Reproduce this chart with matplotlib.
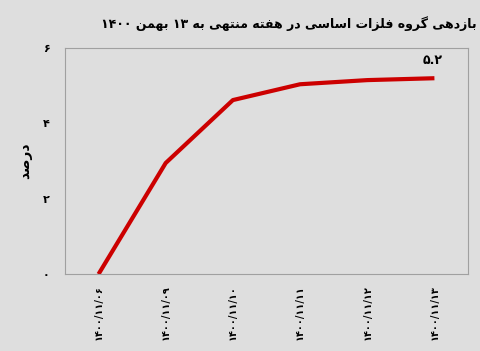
import matplotlib
matplotlib.use("Agg")
import matplotlib.pyplot as plt

# Persian shaping by hand (matplotlib does not shape Arabic script)
FORMS = {
    "ا": ("\uFE8D", "\uFE8E", None, None),
    "ب": ("\uFE8F", "\uFE90", "\uFE91", "\uFE92"),
    "ت": ("\uFE95", "\uFE96", "\uFE97", "\uFE98"),
    "د": ("\uFEA9", "\uFEAA", None, None),
    "ر": ("\uFEAD", "\uFEAE", None, None),
    "ز": ("\uFEAF", "\uFEB0", None, None),
    "س": ("\uFEB1", "\uFEB2", "\uFEB3", "\uFEB4"),
    "ص": ("\uFEB9", "\uFEBA", "\uFEBB", "\uFEBC"),
    "ف": ("\uFED1", "\uFED2", "\uFED3", "\uFED4"),
    "ل": ("\uFEDD", "\uFEDE", "\uFEDF", "\uFEE0"),
    "م": ("\uFEE1", "\uFEE2", "\uFEE3", "\uFEE4"),
    "ن": ("\uFEE5", "\uFEE6", "\uFEE7", "\uFEE8"),
    "ه": ("\uFEE9", "\uFEEA", "\uFEEB", "\uFEEC"),
    "و": ("\uFEED", "\uFEEE", None, None),
    "ی": ("\uFBFC", "\uFBFD", "\uFBFE", "\uFBFF"),
    "گ": ("\uFB92", "\uFB93", "\uFB94", "\uFB95"),
}


def shape_word(word):
    out = []
    for i, ch in enumerate(word):
        if ch not in FORMS:
            out.append(ch)
            continue
        prev = word[i - 1] if i > 0 else None
        nxt = word[i + 1] if i + 1 < len(word) else None
        join_prev = prev in FORMS and FORMS[prev][2] is not None
        join_next = FORMS[ch][2] is not None and nxt in FORMS
        iso, fin, ini, med = FORMS[ch]
        if join_prev and join_next:
            out.append(med)
        elif join_prev:
            out.append(fin)
        elif join_next:
            out.append(ini)
        else:
            out.append(iso)
    return out


def fa(text):
    words = text.split(" ")
    vis = []
    for w in words[::-1]:
        if any(c in FORMS for c in w):
            vis.append("".join(shape_word(w)[::-1]))
        else:
            vis.append(w)
    return " ".join(vis)


def fa_digits(s):
    return s.translate(str.maketrans("0123456789", "۰۱۲۳۴۵۶۷۸۹"))


title = "بازدهی گروه فلزات اساسی در هفته منتهی به ۱۳ بهمن ۱۴۰۰"
ylabel = "درصد"
dates = ["1400/11/06", "1400/11/09", "1400/11/10", "1400/11/11", "1400/11/12", "1400/11/13"]
values = [0.0, 2.95, 4.62, 5.04, 5.15, 5.2]
yticks = [0, 2, 4, 6]

bg = "#dedede"
fig = plt.figure(figsize=(4.81, 3.51), dpi=100, facecolor=bg)
ax = fig.add_axes([0.135, 0.219, 0.838, 0.644], facecolor=bg)

x = list(range(len(dates)))
ax.plot(x, values, color="#cc0000", linewidth=3, solid_capstyle="butt")
ax.annotate(fa_digits("5.2"), (x[-1], values[-1]), xytext=(-1, 8), textcoords="offset points",
            ha="center", va="bottom", fontsize=9, fontweight="bold")

ax.set_xlim(-0.5, len(dates) - 0.5)
ax.set_ylim(0, 6)
ax.set_xticks(x)
ax.set_xticklabels([fa_digits(d) for d in dates], rotation=90, fontsize=7, fontweight="bold")
ax.set_yticks(yticks)
ax.set_yticklabels([fa_digits(str(t)) for t in yticks], fontsize=8, fontweight="bold")
ax.tick_params(length=0)
ax.tick_params(axis="y", pad=11)
ax.tick_params(axis="x", pad=8)
for s in ax.spines.values():
    s.set_color("#a0a0a0")
ax.set_ylabel(fa(ylabel), fontsize=10, fontweight="bold", labelpad=8)

fig.text(0.601, 0.933, fa(title), ha="center", va="center", fontsize=9, fontweight="bold")

fig.savefig("out.png", dpi=100, facecolor=bg)
